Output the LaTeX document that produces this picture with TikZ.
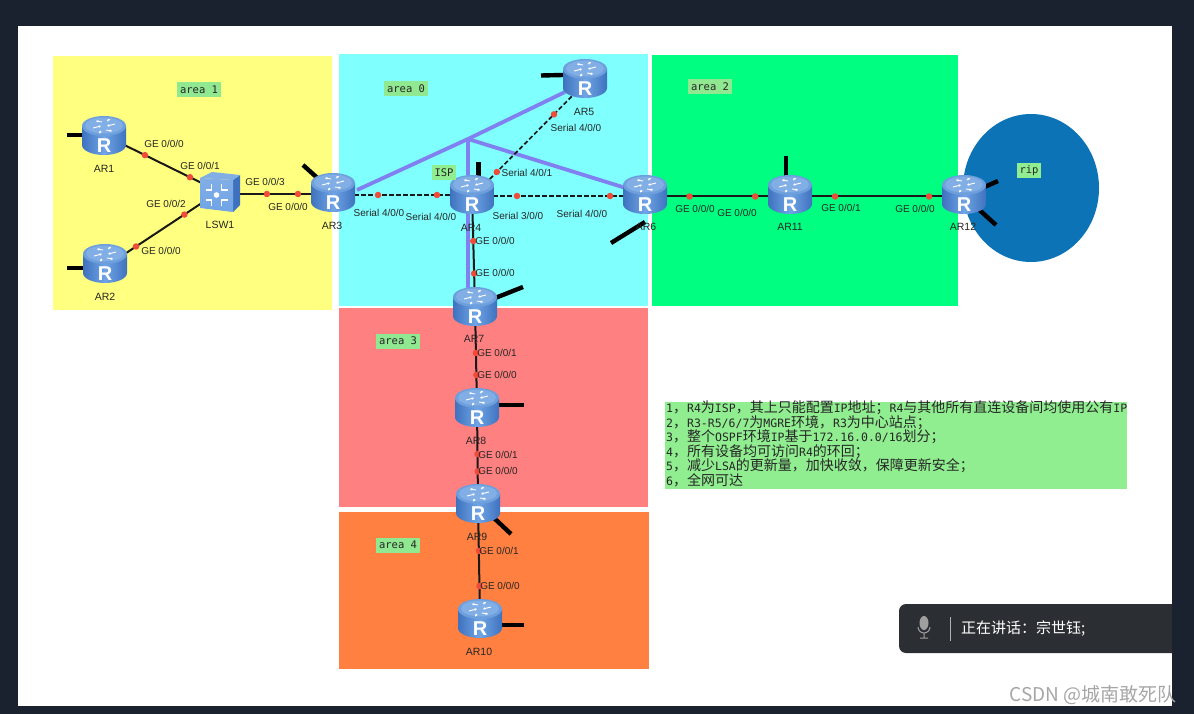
\documentclass[tikz,border=0pt]{standalone}
\usepackage{fontspec}
\setmainfont{Liberation Sans}
\setmonofont{DejaVu Sans Mono}
\newfontfamily\cjk{Noto Sans CJK SC}
\usetikzlibrary{arrows.meta,calc}
\definecolor{frameC}{HTML}{1A2230}
\definecolor{yelC}{HTML}{FFFF80}
\definecolor{cyaC}{HTML}{80FFFF}
\definecolor{grnC}{HTML}{00FF80}
\definecolor{redC}{HTML}{FF8080}
\definecolor{oraC}{HTML}{FF8040}
\definecolor{bluC}{HTML}{0B73B6}
\definecolor{tagC}{HTML}{90E890}
\definecolor{greC}{HTML}{90EE90}
\definecolor{purC}{HTML}{8080F0}
\definecolor{popC}{HTML}{2B2E33}
\definecolor{rEdge}{HTML}{3F72BE}
\definecolor{rMid}{HTML}{6FA4E6}
\definecolor{rTop}{HTML}{6D9FDD}
\definecolor{rIn}{HTML}{82AEE6}
\definecolor{dotC}{HTML}{F04A38}
\tikzset{
  areabox/.style={draw=none,inner sep=0pt,anchor=north west},
  anchorbox/.style={inner sep=0pt,minimum width=44pt,minimum height=40pt},
  reddot/.style={circle,fill=dotC,inner sep=0pt,minimum size=6.5pt},
  lbl/.style={font=\fontsize{10}{12}\selectfont,text=black!85,inner sep=0pt},
  tag/.style={fill=tagC,font=\ttfamily\fontsize{10.5}{12}\selectfont,text=black!85,inner xsep=3pt,inner ysep=2pt,minimum height=15pt},
  link/.style={draw=black!90,line width=2pt},
  dlink/.style={draw=black!90,line width=1.7pt,dash pattern=on 4.5pt off 2.5pt},
  tunnel/.style={draw=purC,line width=3.8pt},
  stub/.style={draw=black,line width=4.4pt},
}
\newcommand\routerdraw[1]{%
  \begin{scope}[shift={(#1.center)}]
    \shade[left color=rEdge,right color=rEdge,middle color=rMid]
      (-22,-9) -- (-22,10) arc[start angle=180,end angle=360,x radius=22pt,y radius=10pt] -- (22,-9) -- cycle;
    \fill[rTop] (0,-9) ellipse [x radius=22pt,y radius=10pt];
    \fill[rIn] (0,-9.5) ellipse [x radius=19pt,y radius=8pt];
    \draw[white,line width=.9pt,-{Stealth[length=2.4pt,width=2.6pt]}] (-11,-7) -- (-3,-9);
    \draw[white,line width=.9pt,-{Stealth[length=2.4pt,width=2.6pt]}] (-2,-13) -- (-8,-14);
    \draw[white,line width=.9pt,-{Stealth[length=2.4pt,width=2.6pt]}] (11,-11) -- (3,-9);
    \draw[white,line width=.9pt,-{Stealth[length=2.4pt,width=2.6pt]}] (2,-5) -- (8,-4);
    \draw[white,line width=.9pt,-{Stealth[length=2.4pt,width=2.6pt]}] (-3,-4) -- (-5,-1.5);
    \draw[white,line width=.9pt,-{Stealth[length=2.4pt,width=2.6pt]}] (3,-14) -- (6,-16);
    \node[text=white,inner sep=0pt,font=\bfseries\fontsize{20}{20}\selectfont] (#1R) at (0,11) {R};
  \end{scope}}
\newcommand\chev[2]{\draw[white,line width=1.6pt,rotate around={#1:(#2)}] ($(#2)+(-11,-5)$) -- ($(#2)+(-5,-5)$) -- ($(#2)+(-5,-11)$);}
\begin{document}
\begin{tikzpicture}[x=1pt,y=-1pt]
\useasboundingbox (0,0) rectangle (1194,714);
% screen frame
\fill[frameC] (0,0) rectangle (1194,714);
\fill[white] (18,26) rectangle (1172,706);
% areas
\fill[yelC] (53,56) rectangle (332,310);
\fill[cyaC] (339,54) rectangle (648,306);
\fill[grnC] (652,55) rectangle (958,306);
\fill[redC] (339,308) rectangle (648,507);
\fill[oraC] (339,512) rectangle (649,669);
\fill[bluC] (1031,188) ellipse [x radius=68pt,y radius=74pt];
% device anchors
\foreach \n/\x/\y in {AR1/104/135,AR2/105/263,AR3/333/192,AR4/472/194,AR5/585/78,AR6/645/194,AR7/475/306,AR8/477/407,AR9/478/503,AR10/480/618,AR11/790/194,AR12/964/194,LSW1/220/192}
  \node[anchorbox] (\n) at (\x,\y) {};
\coordinate (J) at (468,139);
% tunnels
\draw[tunnel] ($(AR3.center)+(24,-2)$) -- (J) -- ($(AR5.center)+(-20,14)$);
\draw[tunnel] (J) -- (AR6.center);
\draw[tunnel] (J) -- ($(AR7.center)+(-7,0)$);
% links
\draw[link] (AR1.center) -- node[reddot,pos=.353]{} node[reddot,pos=.741]{} (LSW1.center);
\draw[link] ($(AR2.center)+(0,4)$) -- node[reddot,pos=.27]{} node[reddot,pos=.69]{} ($(LSW1.center)+(0,-1)$);
\draw[link] ($(LSW1.center)+(0,2)$) -- node[reddot,pos=.415]{} node[reddot,pos=.69]{} ($(AR3.center)+(0,2)$);
\draw[dlink] ($(AR3.center)+(0,3)$) -- node[reddot,pos=.324]{} node[reddot,pos=.748]{} ($(AR4.center)+(0,1)$);
\draw[dlink] ($(AR4.center)+(0,2)$) -- node[reddot,pos=.260]{} node[reddot,pos=.798]{} ($(AR6.center)+(0,2)$);
\draw[dlink] ($(AR4.center)+(3,0)$) -- node[reddot,pos=.19]{} node[reddot,pos=.687]{} ($(AR5.center)+(5,0)$);
\draw[link] (AR4.center) -- node[reddot,pos=.42]{} node[reddot,pos=.71]{} (AR7.center);
\draw[link] (AR7.center) -- node[reddot,pos=.465]{} node[reddot,pos=.683]{} (AR8.center);
\draw[link] (AR8.center) -- node[reddot,pos=.49]{} node[reddot,pos=.672]{} (AR9.center);
\draw[link] (AR9.center) -- node[reddot,pos=.417]{} node[reddot,pos=.722]{} (AR10.center);
\draw[link] ($(AR6.center)+(0,2.5)$) -- node[reddot,pos=.307]{} node[reddot,pos=.76]{} ($(AR11.center)+(0,2.5)$);
\draw[link] ($(AR11.center)+(0,2.5)$) -- node[reddot,pos=.259]{} node[reddot,pos=.799]{} ($(AR12.center)+(0,2.5)$);
% interface stubs
\draw[stub] (AR1.center) -- ++(-37,0);
\draw[stub] ($(AR2.center)+(0,5)$) -- ++(-38,0);
\draw[stub] (AR3.center) -- ++(-30,-27);
\draw[stub] ($(AR4.center)+(6.5,0)$) -- ++(0,-32);
\draw[stub] (AR5.center) ++(0,-3.5) -- ++(-44,1);
\draw[stub] ($(AR6.center)+(0,28)$) -- ++(-34,21);
\draw[stub] (AR7.center) -- ++(48,-19);
\draw[stub] ($(AR8.center)+(0,-2)$) -- ++(47,0);
\draw[stub] ($(AR9.center)+(0,0)$) -- ++(33,31);
\draw[stub] ($(AR10.center)+(0,7)$) -- ++(44,0);
\draw[stub] ($(AR11.center)+(-4,0)$) -- ++(0,-38);
\draw[stub] (AR12.center) ++(0,2) -- ++(34,-15);
\draw[stub] (AR12.center) ++(0,2) -- ++(32,29);
% switch icon
\begin{scope}[shift={(LSW1.center)}]
  \fill[rEdge] (13,-12) -- (20,-17) -- (20,13) -- (13,20) -- cycle;
  \fill[rIn] (-20,-14) -- (-8,-20) -- (20,-17) -- (13,-12) -- cycle;
  \shade[top color=rIn,bottom color=rMid] (-20,-14) -- (13,-12) -- (13,20) -- (-20,16) -- cycle;
  \coordinate (c) at (-3.5,3);
  \fill[white] (c) circle (2.8pt);
  \foreach \r in {0,90,180,270} {\chev{\r}{c}}
\end{scope}
% routers
\foreach \n in {AR1,AR2,AR3,AR4,AR5,AR6,AR7,AR8,AR9,AR10,AR11,AR12} {\routerdraw{\n}}
% router labels
\foreach \t/\x/\y in {AR1/104/169,AR2/105/297,AR3/332/226,AR4/471/228,AR5/584/112,AR6/646/227,AR7/474/339,AR8/476/441,AR9/477/537,AR10/479/652,AR11/790/227,AR12/963/227,LSW1/220/225}
  \node[lbl,font=\fontsize{10.5}{12}\selectfont] (L\t) at (\x,\y) {\t};
% interface labels
\foreach \i/\t/\x/\y in {a/GE 0\slash 0\slash 0/164/144,b/GE 0\slash 0\slash 1/200/166,c/GE 0\slash 0\slash 2/166/204,d/GE 0\slash 0\slash 0/161/251,e/GE 0\slash 0\slash 3/265/182,f/GE 0\slash 0\slash 0/288/207,
  g/Serial 4\slash 0\slash 0/379/213,h/Serial 4\slash 0\slash 0/431/217,i/Serial 4\slash 0\slash 1/527/173,j/Serial 3\slash 0\slash 0/518/216,k/Serial 4\slash 0\slash 0/582/214,l/Serial 4\slash 0\slash 0/576/128,
  m/GE 0\slash 0\slash 0/495/241,n/GE 0\slash 0\slash 0/495/273,o/GE 0\slash 0\slash 1/497/353,p/GE 0\slash 0\slash 0/497/375,q/GE 0\slash 0\slash 1/498/455,r/GE 0\slash 0\slash 0/498/471,s/GE 0\slash 0\slash 1/499/551,t/GE 0\slash 0\slash 0/500/586,
  u/GE 0\slash 0\slash 0/695/209,v/GE 0\slash 0\slash 0/737/213,w/GE 0\slash 0\slash 1/841/208,x/GE 0\slash 0\slash 0/915/209}
  \node[lbl] (I\i) at (\x,\y) {\t};
% area tags
\node[tag] (t1) at (199,90) {area 1};
\node[tag] (t0) at (406,89) {area 0};
\node[tag] (t2) at (710,87) {area 2};
\node[tag] (t3) at (398,341) {area 3};
\node[tag] (t4) at (398,545) {area 4};
\node[tag,fill=greC] (tisp) at (444,173) {ISP};
\node[tag,fill=greC] (trip) at (1029,171) {rip};
% notes
\fill[greC] (665,402) rectangle (1127,489);
\newcommand\zh[1]{{\cjk\fontsize{14}{14.6}\selectfont #1}}
\node[anchor=north west,inner sep=0pt,align=left,text=black!85,font=\ttfamily\fontsize{11.5}{14.6}\selectfont] (notes) at (666,400.5) {%
1\zh{，}R4\zh{为}ISP\zh{，其上只能配置}IP\zh{地址；}R4\zh{与其他所有直连设备间均使用公有}IP\\
2\zh{，}R3-R5/6/7\zh{为}MGRE\zh{环境，}R3\zh{为中心站点；}\\
3\zh{，整个}OSPF\zh{环境}IP\zh{基于}172.16.0.0/16\zh{划分；}\\
4\zh{，所有设备均可访问}R4\zh{的环回；}\\
5\zh{，减少}LSA\zh{的更新量，加快收敛，保障更新安全；}\\
6\zh{，全网可达}};
% speaking popup
\fill[popC,rounded corners=7pt] (899,604) rectangle (1190,653);
\fill[frameC] (1172,600) rectangle (1194,660);
\fill[gray!75] (924,623) ellipse [x radius=4.5pt,y radius=7pt];
\draw[gray!75,line width=1pt] (918,627) arc[start angle=180,end angle=360,radius=6pt] (924,633) -- (924,638) (920,638) -- (928,638);
\draw[gray!60] (950,617) -- (950,641);
\node[anchor=west,inner sep=0pt,text=white,font=\cjk\fontsize{15}{16}\selectfont] (speak) at (961,629) {正在讲话：宗世钰;};
% watermark
\node[anchor=east,inner sep=0pt,text=gray!70,font=\cjk\fontsize{19}{21}\selectfont] (mark) at (1177,695) {CSDN @城南敢死队};
\end{tikzpicture}
\end{document}
